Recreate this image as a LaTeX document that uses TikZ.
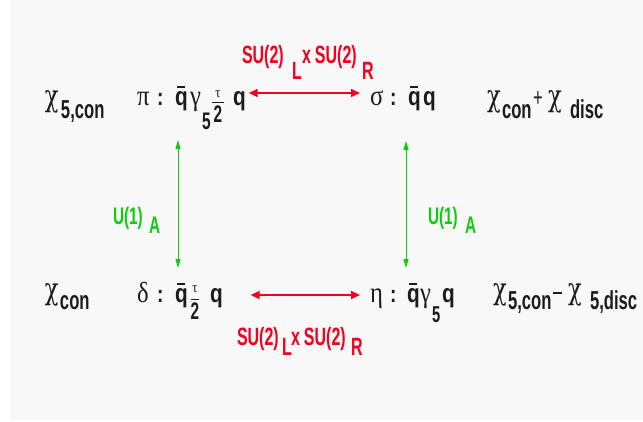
\documentclass[tikz,border=0pt]{standalone}
\usepackage{fontspec}
\usetikzlibrary{arrows.meta}
\setmainfont{Liberation Sans}[FakeStretch=0.64]
\newfontfamily\qf{Liberation Sans}[FakeStretch=0.8]
\newfontfamily\grk{Liberation Serif}[FakeStretch=0.85]
\newfontfamily\chif{DejaVu Serif}[FakeStretch=0.75]
\definecolor{bg}{HTML}{F8F8F8}
\definecolor{myred}{HTML}{F2001E}
\definecolor{mygreen}{HTML}{10CC10}
\definecolor{ink}{HTML}{1C1C1C}
% fixed-width piece
\newcommand\pc[2]{\makebox[#1pt][l]{#2}}
\newcommand\gl[1]{{\grk\mdseries\fontsize{29}{29}\selectfont #1}}
\newcommand\gchi{{\chif\mdseries\fontsize{30}{30}\selectfont χ}}
\newcommand\sub[2]{\raisebox{-#1pt}{\fontsize{26}{26}\selectfont\bfseries #2}}
\newcommand\qq{{\qf\bfseries\fontsize{26}{26}\selectfont q}}
\newcommand\qb{\leavevmode\rlap{\kern2pt\raisebox{18pt}{\rule{8pt}{1.6pt}}}\qq}
\newcommand\cl{{\qf\bfseries\fontsize{24}{24}\selectfont :}}
% fraction tau/2 : #1 bar width, #2 tau raise, #3 bar raise, #4 two lowering
\newcommand\frc[4]{\rlap{\raisebox{#2pt}{\makebox[#1pt]{\grk\mdseries\fontsize{15}{15}\selectfont τ}}}%
  \rlap{\raisebox{#3pt}{\rule{#1pt}{0.9pt}}}%
  \raisebox{-#4pt}{\makebox[#1pt]{\fontsize{24}{24}\selectfont\bfseries 2}}}
\newcommand\lsub[2]{\raisebox{-#1pt}{#2}}
\tikzset{
  every node/.style={inner sep=0pt, outer sep=0pt},
  blk/.style={text=ink, anchor=base west, font=\fontsize{26}{26}\selectfont\bfseries},
  redlbl/.style={text=myred, anchor=base west, font=\fontsize{25}{25}\selectfont\bfseries},
  grnlbl/.style={text=mygreen, anchor=base west, font=\fontsize{24}{24}\selectfont\bfseries},
  redarr/.style={draw=myred, line width=1.5pt, {Triangle[length=9pt,width=8pt]}-{Triangle[length=9pt,width=8pt]}},
  grnarr/.style={draw=mygreen, line width=1pt, {Triangle[length=9pt,width=5pt]}-{Triangle[length=9pt,width=5pt]}},
}
\begin{document}
\begin{tikzpicture}[x=1pt,y=-1pt]
\useasboundingbox (0,0) rectangle (643,422);
\fill[bg] (10,0) rectangle (643,420);
% top row (baseline 106)
\node[blk] (chiA) at (45,107) {\pc{16}{\gchi}\sub{12}{5,con}};
\node[blk] (pi) at (137,106) {\pc{20}{\gl{π}}\pc{18}{\cl}\pc{15}{\qb}\pc{12}{\gl{γ}}\pc{10}{\sub{24}{\fontsize{24}{24}\selectfont 5}}\pc{21}{\frc{12}{8}{3}{17}}\qq};
\node[blk] (sigma) at (370,106) {\pc{20}{\gl{σ}}\pc{18}{\cl}\pc{15}{\qb}\qq};
\node[blk] (chiB) at (487,107) {\pc{15}{\gchi}\pc{31}{\sub{12}{con}}\pc{15}{\raisebox{0pt}{\fontsize{26}{26}\selectfont\mdseries +}}\pc{22}{\gchi}\sub{12}{disc}};
% bottom row (baseline 303)
\node[blk] (chiC) at (45,299) {\pc{15}{\gchi}\sub{10}{con}};
\node[blk] (delta) at (137,303) {\pc{20}{\gl{δ}}\pc{18}{\cl}\pc{16}{\qb}\pc{19}{\frc{8}{10}{3}{17}}\qq};
\node[blk] (eta) at (370,303) {\pc{20}{\gl{η}}\pc{17}{\cl}\pc{13}{\qb}\pc{12}{\gl{γ}}\pc{10}{\sub{20}{\fontsize{23}{23}\selectfont 5}}\qq};
\node[blk] (chiD) at (493,299) {\pc{15}{\gchi}\pc{45}{\sub{10}{5,con}}\pc{15}{\raisebox{5pt}{\rule{9pt}{1.6pt}}}\pc{22}{\gchi}\sub{10}{5,disc}};
% labels
\node[redlbl] (suTop) at (242,64) {\pc{50}{SU(2)}\pc{10}{\lsub{16}{L}}\pc{13}{x}\pc{47}{SU(2)}\lsub{16}{R}};
\node[redlbl] (suBot) at (237,345) {\pc{45}{SU(2)}\pc{9}{\lsub{10}{L}}\pc{13}{x}\pc{47}{SU(2)}\lsub{10}{R}};
\node[grnlbl] (uL) at (113,225) {\pc{36}{U(1)}\lsub{9}{A}};
\node[grnlbl] (uR) at (428,225) {\pc{37}{U(1)}\lsub{9}{A}};
% connectors
\draw[redarr] ([shift={(3,-13)}]pi.base east) -- ([shift={(-10,-13)}]sigma.base west);
\draw[redarr] ([shift={(28,-8)}]delta.base east) -- ([shift={(-10,-8)}]eta.base west);
\draw[grnarr] ([shift={(41,34)}]pi.base west) -- ([shift={(41,-35)}]delta.base west);
\draw[grnarr] ([shift={(36,35)}]sigma.base west) -- ([shift={(36,-35)}]eta.base west);
\end{tikzpicture}
\end{document}
